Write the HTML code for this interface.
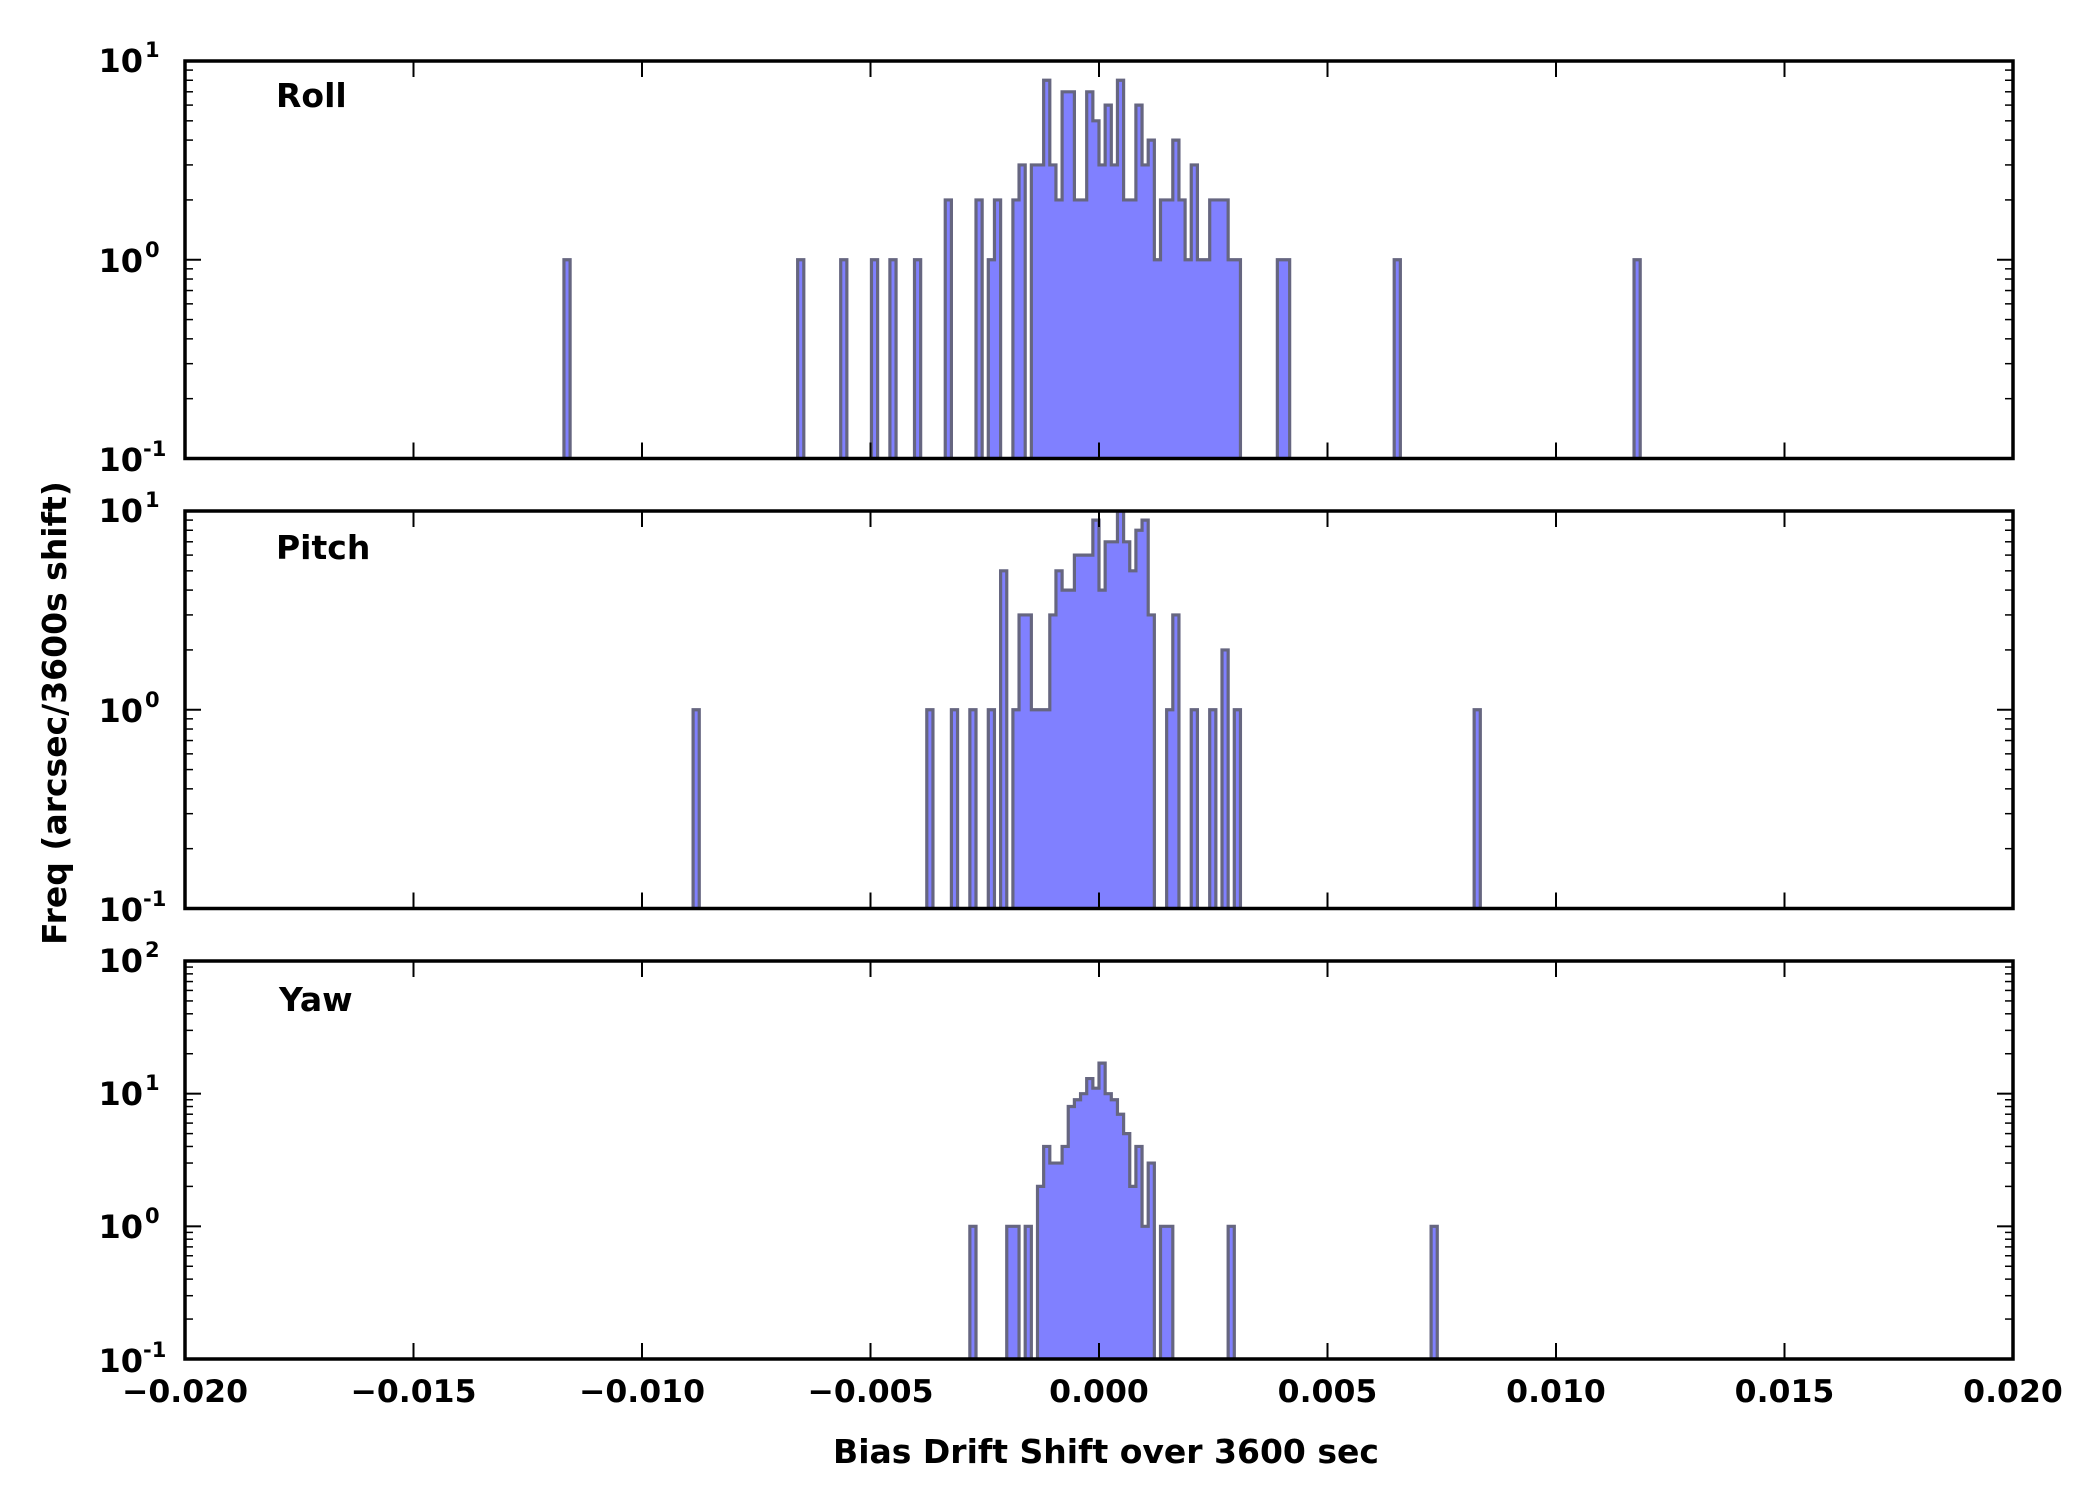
<!DOCTYPE html>
<html><head><meta charset="utf-8"><style>
html,body{margin:0;padding:0;background:#fff;}
svg{display:block;}
text{font-family:"DejaVu Sans","Liberation Sans",sans-serif;font-weight:bold;fill:#000;}
</style></head><body>
<svg id="s" width="2100" height="1500" viewBox="0 0 2100 1500" xmlns="http://www.w3.org/2000/svg">
<defs>
<clipPath id="c0"><rect x="185" y="61" width="1828" height="397.5"/></clipPath>
<clipPath id="c1"><rect x="185" y="511" width="1828" height="397.5"/></clipPath>
<clipPath id="c2"><rect x="185" y="961" width="1828" height="398"/></clipPath>
</defs>
<g id="hist"></g>
<g id="axes" stroke="#000" fill="none"></g>
<!-- y tick labels -->
<g font-size="32" text-anchor="end">
<text x="143" y="72">10</text><text x="143" y="272">10</text><text x="143" y="471">10</text>
<text x="143" y="522">10</text><text x="143" y="722">10</text><text x="143" y="921">10</text>
<text x="143" y="972">10</text><text x="143" y="1105">10</text><text x="143" y="1238">10</text><text x="143" y="1372">10</text>
</g>
<g font-size="21" text-anchor="start">
<text x="145" y="57">1</text><text x="145" y="257">0</text><text x="143" y="456">-1</text>
<text x="145" y="507">1</text><text x="145" y="707">0</text><text x="143" y="906">-1</text>
<text x="145" y="957">2</text><text x="145" y="1090">1</text><text x="145" y="1223">0</text><text x="143" y="1357">-1</text>
</g>
<!-- x tick labels -->
<g font-size="31.5" text-anchor="middle">
<text x="185" y="1402">−0.020</text><text x="413.5" y="1402">−0.015</text><text x="642" y="1402">−0.010</text>
<text x="870.5" y="1402">−0.005</text><text x="1099" y="1402">0.000</text><text x="1327.5" y="1402">0.005</text>
<text x="1556" y="1402">0.010</text><text x="1784.5" y="1402">0.015</text><text x="2013" y="1402">0.020</text>
</g>
<g font-size="33">
<text x="276" y="107">Roll</text>
<text x="276" y="559">Pitch</text>
<text x="279" y="1011">Yaw</text>
<text x="1106" y="1463" text-anchor="middle">Bias Drift Shift over 3600 sec</text>
<text transform="translate(66,713) rotate(-90)" text-anchor="middle">Freq (arcsec/3600s shift)</text>
</g>
</svg>
<script>
var NS="http://www.w3.org/2000/svg";
var panels=[
 {top:61,bot:458.5,lo:-1,hi:1,d:{"-87":1,"-49":1,"-42":1,"-37":1,"-34":1,"-30":1,"-25":2,"-20":2,"-18":1,"-17":2,"-14":2,"-13":3,"-11":3,"-10":3,"-9":8,"-8":3,"-7":2,"-6":7,"-5":7,"-4":2,"-3":2,"-2":7,"-1":5,"0":3,"1":6,"2":3,"3":8,"4":2,"5":2,"6":6,"7":3,"8":4,"9":1,"10":2,"11":2,"12":4,"13":2,"14":1,"15":3,"16":1,"17":1,"18":2,"19":2,"20":2,"21":1,"22":1,"29":1,"30":1,"48":1,"87":1}},
 {top:511,bot:908.5,lo:-1,hi:1,d:{"-66":1,"-28":1,"-24":1,"-21":1,"-18":1,"-16":5,"-14":1,"-13":3,"-12":3,"-11":1,"-10":1,"-9":1,"-8":3,"-7":5,"-6":4,"-5":4,"-4":6,"-3":6,"-2":6,"-1":9,"0":4,"1":7,"2":7,"3":10,"4":7,"5":5,"6":8,"7":9,"8":3,"11":1,"12":3,"15":1,"18":1,"20":2,"22":1,"61":1}},
 {top:961,bot:1359,lo:-1,hi:2,d:{"-21":1,"-15":1,"-14":1,"-12":1,"-10":2,"-9":4,"-8":3,"-7":3,"-6":4,"-5":8,"-4":9,"-3":10,"-2":13,"-1":11,"0":17,"1":10,"2":9,"3":7,"4":5,"5":2,"6":4,"7":1,"8":3,"10":1,"11":1,"21":1,"54":1}}
];
var W=6.15,X0=1099,L=185,R=2013;
var hist=document.getElementById("hist"),axes=document.getElementById("axes");
function el(p,tag,a){var e=document.createElementNS(NS,tag);for(var k in a)e.setAttribute(k,a[k]);p.appendChild(e);return e;}
panels.forEach(function(p,i){
 var dec=(p.bot-p.top)/(p.hi-p.lo);
 function Y(v){return p.bot-(Math.log10(v)-p.lo)*dec;}
 var ks=Object.keys(p.d).map(Number).sort(function(a,b){return a-b;});
 var runs=[],cur=null;
 ks.forEach(function(k){if(cur&&k===cur[cur.length-1]+1)cur.push(k);else{cur=[k];runs.push(cur);}});
 var dstr="";
 runs.forEach(function(r){
  var x=X0+r[0]*W;dstr+="M"+x.toFixed(2)+","+(p.bot+3)+" ";
  r.forEach(function(k){var y=Y(p.d[k]).toFixed(2);var xa=X0+k*W,xb=X0+(k+1)*W;dstr+="L"+xa.toFixed(2)+","+y+" L"+xb.toFixed(2)+","+y+" ";});
  dstr+="L"+(X0+(r[r.length-1]+1)*W).toFixed(2)+","+(p.bot+3)+" Z ";
 });
 el(hist,"path",{d:dstr,fill:"#8080ff",stroke:"#666680","stroke-width":"3.2","stroke-linejoin":"miter","clip-path":"url(#c"+i+")"});
 for(var j=1;j<8;j++){var x=L+j*228.5;
  el(axes,"line",{x1:x,x2:x,y1:p.top,y2:p.top+16,"stroke-width":"2"});
  el(axes,"line",{x1:x,x2:x,y1:p.bot,y2:p.bot-16,"stroke-width":"2"});}
 for(var e=p.lo;e<=p.hi;e++){var y=p.bot-(e-p.lo)*dec;
  if(e>p.lo&&e<p.hi){el(axes,"line",{x1:L,x2:L+16,y1:y,y2:y,"stroke-width":"2"});el(axes,"line",{x1:R,x2:R-16,y1:y,y2:y,"stroke-width":"2"});}
  if(e<p.hi)for(var m=2;m<10;m++){var ym=y-Math.log10(m)*dec;
   el(axes,"line",{x1:L,x2:L+8,y1:ym,y2:ym,"stroke-width":"1.5"});el(axes,"line",{x1:R,x2:R-8,y1:ym,y2:ym,"stroke-width":"1.5"});}}
 el(axes,"rect",{x:L,y:p.top,width:R-L,height:p.bot-p.top,"stroke-width":"3.5"});
});
</script>
</body></html>
